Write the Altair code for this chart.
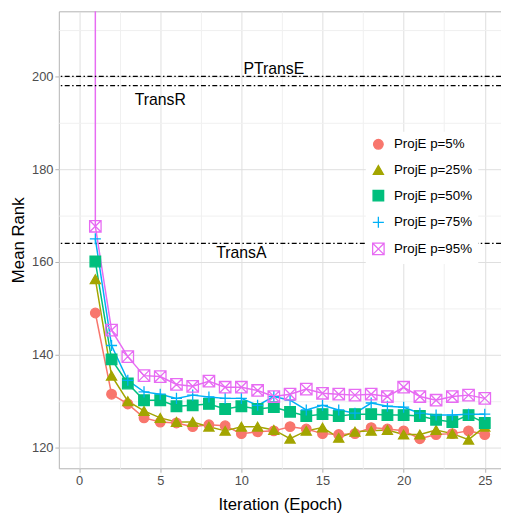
import altair as alt
import pandas as pd

epochs = list(range(1, 26))
series_names = ["ProjE p=5%", "ProjE p=25%", "ProjE p=50%", "ProjE p=75%", "ProjE p=95%"]
colors = ["#F8766D", "#A3A500", "#00BF7D", "#00B0F6", "#E76BF3"]
fills = ["#F8766D", "#A3A500", "#00BF7D", "transparent", "transparent"]
shapes = ["circle", "triangle-up", "square", "M-1,0L1,0M0,-1L0,1",
          "M-1,-1L1,-1L1,1L-1,1Z M-1,-1L1,1 M1,-1L-1,1"]
sizes = [95, 135, 90, 190, 125]

p5 = [149, 131.5, 129.4, 126.4, 125.5, 125.3, 124.5, 124.9, 124.7, 123, 123.4, 123.6, 124.5,
      124, 123, 122.8, 123, 124.3, 124, 123.6, 121.9, 122.8, 123, 123.6, 122.8]
p25 = [156.3, 135.5, 130, 127.9, 126.4, 125.5, 125.5, 124.5, 123.6, 124.5, 124.5, 123.8, 121.9,
       123.6, 124.3, 122.1, 123.4, 123.6, 123.8, 122.8, 122.8, 123.8, 123, 121.7, 124.5]
p50 = [160.1, 139, 133.8, 130.2, 130.2, 128.9, 129.1, 129.4, 128.3, 128.9, 128.3, 128.7, 127.7,
       126.8, 127.2, 126.8, 127.2, 127.2, 127, 127, 126.8, 126, 125.5, 127, 125.3]
p75 = [165, 142, 134.5, 132, 131.5, 130.6, 131.3, 130.9, 130.6, 130.6, 129.1, 131, 130.2,
       128.1, 129.1, 128.1, 127.4, 129.6, 128.9, 128.7, 127.4, 127, 127, 127.2, 127.2]
p95 = [167.7, 145.3, 139.6, 135.5, 135.3, 133.6, 133.2, 134.3, 133, 133, 132.3, 131, 131.5,
       132.6, 131.7, 131.5, 131.3, 131.5, 131, 133, 131, 130.2, 131, 131.3, 130.6]
# off-chart starting mean rank at epoch 1 (only the p=95% curve is visible above the panel)
start_rank = [None, None, None, None, 230]

ref_names = ["PTransE", "TransR", "TransA"]
ref_values = [200, 198, 164]
ref_label_x = [12, 5, 10]
ref_label_y = [201.6, 194.8, 161.9]

rows = []
for name, vals, s0 in zip(series_names, [p5, p25, p50, p75, p95], start_rank):
    if s0 is not None:
        rows.append({"series": name, "epoch": 1, "rank": s0, "ord": 0})
    for i, (e, v) in enumerate(zip(epochs, vals)):
        rows.append({"series": name, "epoch": e, "rank": v, "ord": i + 1})
df = pd.DataFrame(rows)
refs = pd.DataFrame({"name": ref_names, "value": ref_values, "lx": ref_label_x, "ly": ref_label_y})

FONT = "Liberation Sans"
xscale = alt.Scale(domain=[-1.25, 26.0], nice=False, zero=False)
yscale = alt.Scale(domain=[115.53, 214.04], nice=False, zero=False)

xaxis = alt.Axis(
    values=[0, 2.5, 5, 7.5, 10, 12.5, 15, 17.5, 20, 22.5, 25],
    labelExpr="datum.value % 5 == 0 ? datum.label : ''",
    gridColor={"condition": {"test": "datum.value % 5 == 0", "value": "#DEDEDE"}, "value": "#F0F0F0"},
    tickOpacity={"condition": {"test": "datum.value % 5 == 0", "value": 1}, "value": 0},
    title="Iteration (Epoch)", titlePadding=10,
)
yaxis = alt.Axis(
    values=[120, 130, 140, 150, 160, 170, 180, 190, 200, 210],
    labelExpr="datum.value % 20 == 0 ? datum.label : ''",
    gridColor={"condition": {"test": "datum.value % 20 == 0", "value": "#DEDEDE"}, "value": "#F0F0F0"},
    tickOpacity={"condition": {"test": "datum.value % 20 == 0", "value": 1}, "value": 0},
    title="Mean Rank", titlePadding=4,
)

base = alt.Chart(df)

line_layers = []
for name, col in zip(series_names, colors):
    line_layers.append(
        base.transform_filter(alt.datum.series == name).mark_line(strokeWidth=1.5, clip=True).encode(
            x=alt.X("epoch:Q", scale=xscale, axis=xaxis),
            y=alt.Y("rank:Q", scale=yscale, axis=yaxis),
            stroke=alt.value(col),
            order="ord:Q",
        )
    )

leg = alt.Legend(
    title=None, orient="none", legendX=311, legendY=122,
    fillColor="white", padding=6, rowPadding=10,
    labelFontSize=13.5, labelFont=FONT, labelColor="black", labelOffset=9,
    symbolStrokeWidth=1.3,
)

points = base.transform_filter("datum.ord > 0").mark_point(opacity=1, strokeWidth=1.3, clip=True).encode(
    x=alt.X("epoch:Q", scale=xscale, axis=xaxis),
    y=alt.Y("rank:Q", scale=yscale, axis=yaxis),
    stroke=alt.Stroke("series:N", scale=alt.Scale(domain=series_names, range=colors), legend=leg),
    fill=alt.Fill("series:N", scale=alt.Scale(domain=series_names, range=fills), legend=leg),
    shape=alt.Shape("series:N", scale=alt.Scale(domain=series_names, range=shapes), legend=leg),
    size=alt.Size("series:N", scale=alt.Scale(domain=series_names, range=sizes), legend=leg),
)

rules = alt.Chart(refs).mark_rule(color="black", strokeWidth=1.2, strokeDash=[5, 2.5, 1.5, 2.5]).encode(
    y="value:Q"
)
labels = alt.Chart(refs).mark_text(font=FONT, fontSize=16, color="black").encode(
    x="lx:Q", y="ly:Q", text="name:N"
)

chart = alt.layer(*line_layers, rules, labels, points).properties(
    width=448, height=463,
    autosize=alt.AutoSizeParams(type="none"),
    padding={"left": 51.5, "top": 0, "right": 0, "bottom": 45},
).configure_view(
    stroke="#B3B3B3", strokeWidth=1
).configure_axis(
    domain=False, tickColor="#B3B3B3", tickSize=4, labelColor="#4D4D4D", labelFontSize=13,
    labelFont=FONT, titleFont=FONT, titleFontSize=17, titleFontWeight="normal", titleColor="black",
    labelPadding=2,
)

chart.save("out.html", embed_options={"renderer": "svg", "actions": False})
